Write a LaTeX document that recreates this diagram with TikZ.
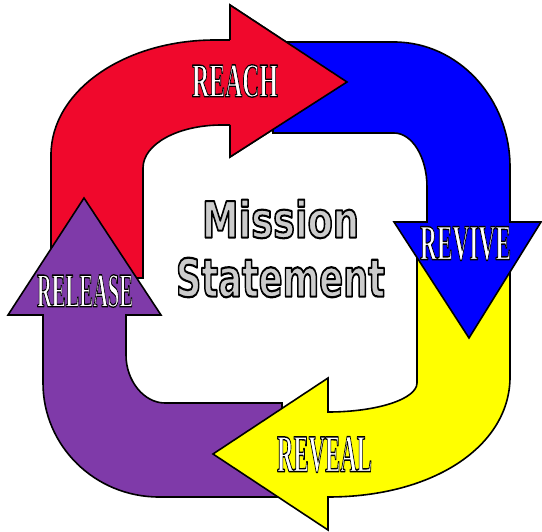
\documentclass[tikz,border=0pt]{standalone}
\usepackage{fontspec}
\setmainfont{Liberation Serif}
\newfontfamily\msfont{DejaVu Sans}
\definecolor{rred}{RGB}{240,8,44}
\definecolor{bblue}{RGB}{0,0,255}
\definecolor{yyellow}{RGB}{255,255,0}
\definecolor{ppurple}{RGB}{127,58,169}
\definecolor{msgray}{RGB}{204,204,204}
% text filled with #1 and stroked in black with width #2
\newcommand\outlined[3]{{\color{#1}\special{pdf:literal direct 0 G #2 w 1 j 2 Tr}#3\special{pdf:literal direct 0 Tr}}}
\newcommand\arrowlabel[3]{\resizebox{#1}{#2}{\fontsize{48pt}{50pt}\selectfont\bfseries\outlined{white}{1.3}{#3}}}
\newcommand\centreword[3]{\resizebox{#1}{#2}{\msfont\bfseries\fontsize{53pt}{55pt}\selectfont\outlined{msgray}{2.2}{#3}}}
\begin{document}
\begin{tikzpicture}[x=1pt,y=-1pt,
  arrowshape/.style={draw=black,line width=1.6pt,line join=miter},
  txt/.style={inner sep=0pt,outer sep=0pt}]
\useasboundingbox (0,0) rectangle (542,532);
% red (REACH)
\path[arrowshape, fill=rred] (51,278) -- (51,155) .. controls (51,91) and (124,40) .. (215,40) -- (230,40) -- (230,5) -- (347,82) -- (230,157) -- (230,125) -- (222,125) .. controls (178,125) and (143,144) .. (143,168) -- (143,278) -- cycle;
% purple (RELEASE)
\path[arrowshape, fill=ppurple] (84,198) -- (161,315) -- (126,315) -- (126,355) .. controls (126,381) and (144,403) .. (165,403) -- (282,403) -- (282,485) -- (278,497) -- (159,497) .. controls (95,497) and (43,446) .. (43,383) -- (43,315) -- (8,315) -- cycle;
% yellow (REVEAL)
\path[arrowshape, fill=yyellow] (417,240) -- (417,383) .. controls (417,399) and (377,412) .. (328,412) -- (328,378) -- (213,454) -- (328,530) -- (328,497) .. controls (435,497) and (510,445) .. (510,377) -- (510,240) -- cycle;
% blue (REVIVE)
\path[arrowshape, fill=bblue] (273,42) -- (394,42) .. controls (458,42) and (510,98) .. (510,167) -- (510,222) -- (541,222) -- (469,338) -- (394,222) -- (427,222) -- (427,187) .. controls (427,157) and (412,133) .. (394,133) -- (273,133) -- cycle;
% red head on top of blue
\fill[rred] (230,40) -- (230,5) -- (347,82) -- (230,157) -- (230,125) -- cycle;
\draw[arrowshape] (230,40) -- (230,5) -- (347,82) -- (230,157) -- (230,125);
% labels
\node[txt] (reach) at (235,81) {\arrowlabel{86pt}{32pt}{REACH}};
\node[txt] (revive) at (465.5,243.5) {\arrowlabel{91pt}{33pt}{REVIVE}};
\node[txt] (release) at (85,291) {\arrowlabel{96pt}{32pt}{RELEASE}};
\node[txt] (reveal) at (324.5,454.5) {\arrowlabel{95pt}{35pt}{REVEAL}};
% centre text
\node[txt] (mission) at (280.5,219) {\centreword{157pt}{38pt}{Mission}};
\node[txt] (statement) at (280.5,277.5) {\centreword{209pt}{39pt}{Statement}};
\end{tikzpicture}
\end{document}
